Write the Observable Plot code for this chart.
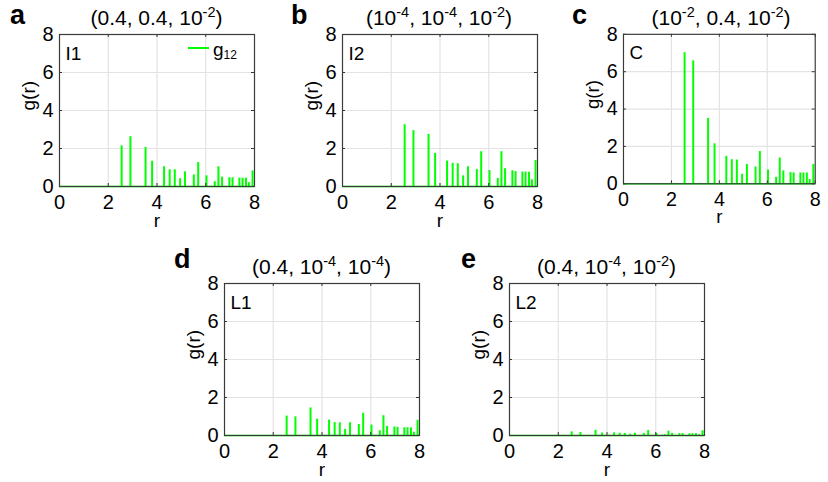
<!DOCTYPE html>
<html>
<head>
<meta charset="utf-8">
<script src="https://cdn.jsdelivr.net/npm/d3@7"></script>
<script src="https://cdn.jsdelivr.net/npm/@observablehq/plot@0.6"></script>
<style>
  body { margin: 0; background: #fff; }
  #root { position: relative; width: 828px; height: 482px; overflow: hidden; font-family: Arial, "Liberation Sans", Helvetica, sans-serif; color: #000; }
  .panel { position: absolute; }
  .title { position: absolute; width: 260px; text-align: center; font-size: 21px; line-height: 21px; white-space: nowrap; }
  .title sup { font-size: 14.5px; vertical-align: 8px; line-height: 0; }
  .letter { position: absolute; font-size: 27px; font-weight: bold; line-height: 30px; }
  .legend { position: absolute; font-size: 19px; line-height: 19px; white-space: nowrap; }
  .legend .sw { display: inline-block; width: 21px; height: 2px; background: #00ff00; vertical-align: middle; margin-right: 4px; position: relative; top: -3px; }
  .legend sub { font-size: 12px; vertical-align: -3px; line-height: 0; }
</style>
</head>
<body>
<div id="root"></div>
<script>
// distances r at which g12(r) is non-zero
const r = [2.55, 2.91, 3.53, 3.80, 4.29, 4.52, 4.73, 4.95, 5.15, 5.51, 5.69, 6.03, 6.37, 6.52, 6.67, 6.97, 7.10, 7.38, 7.51, 7.65, 7.77, 7.92];
const gI1 = [2.14, 2.62, 2.05, 1.33, 1.04, 0.88, 0.88, 0.41, 0.77, 0.61, 1.26, 0.56, 0.25, 1.04, 0.49, 0.46, 0.46, 0.44, 0.44, 0.44, 0.20, 0.82];
const gI2 = [3.25, 2.94, 2.74, 1.74, 1.34, 1.22, 1.20, 0.56, 1.04, 0.89, 1.83, 0.84, 0.42, 1.83, 0.94, 0.83, 0.78, 0.76, 0.76, 0.75, 0.35, 1.37];
const gC  = [7.02, 6.58, 3.50, 2.14, 1.47, 1.29, 1.27, 0.51, 1.03, 0.90, 1.73, 0.74, 0.35, 1.38, 0.69, 0.60, 0.58, 0.58, 0.58, 0.58, 0.23, 1.04];
const gL1 = [1.02, 0.98, 1.45, 0.86, 0.81, 0.68, 0.67, 0.32, 0.67, 0.58, 1.17, 0.55, 0.25, 1.04, 0.48, 0.45, 0.43, 0.41, 0.41, 0.40, 0.17, 0.80];
const gL2 = [0.19, 0.16, 0.27, 0.13, 0.14, 0.12, 0.11, 0.07, 0.12, 0.11, 0.26, 0.11, 0.04, 0.23, 0.11, 0.10, 0.10, 0.09, 0.09, 0.10, 0.04, 0.25];

const letters = ["a", "b", "c", "d", "e"];
const tags = ["I1", "I2", "C", "L1", "L2"];
const titles = [
  "(0.4, 0.4, 10<sup>-2</sup>)",
  "(10<sup>-4</sup>, 10<sup>-4</sup>, 10<sup>-2</sup>)",
  "(10<sup>-2</sup>, 0.4, 10<sup>-2</sup>)",
  "(0.4, 10<sup>-4</sup>, 10<sup>-4</sup>)",
  "(0.4, 10<sup>-4</sup>, 10<sup>-2</sup>)"
];
const series = [gI1, gI2, gC, gL1, gL2];
const xTicks = [0, 2, 4, 6, 8];
const yTicks = [0, 2, 4, 6, 8];
const gridTicks = [2, 4, 6];
const xLabel = "r";
const yLabel = "g(r)";
const legendName = "g";
const legendSub = "12";

// layout (plot-frame top-left corners)
const W = 195, H = 152;
const ML = 60, MR = 14, MT = 10, MB = 50;
const frames = [[59, 34], [341.5, 34], [623.5, 34], [224, 283], [509, 283]];
const letterPos = [[10, 0], [291, 0], [572, 0], [174, 244], [461, 244]];

const root = document.getElementById("root");
const green = "#00ff00";

series.forEach((g, i) => {
  const data = r.map((rv, k) => ({r: rv, g: g[k]}));
  const plot = Plot.plot({
    width: W + ML + MR,
    height: H + MT + MB,
    marginLeft: ML, marginRight: MR, marginTop: MT, marginBottom: MB,
    style: {fontFamily: 'Arial, "Liberation Sans", Helvetica, sans-serif', fontSize: "20px", background: "transparent", overflow: "visible", color: "#000"},
    x: {domain: [0, 8]},
    y: {domain: [0, 8]},
    marks: [
      Plot.gridX(gridTicks, {stroke: "#e3e3e3", strokeOpacity: 1, strokeWidth: 1.2}),
      Plot.gridY(gridTicks, {stroke: "#e3e3e3", strokeOpacity: 1, strokeWidth: 1.2}),
      Plot.ruleY([0], {stroke: green, strokeWidth: 1.5}),
      Plot.ruleX(data, {x: "r", y1: 0, y2: "g", stroke: green, strokeWidth: 2}),
      // inward ticks on all four sides
      Plot.ruleX(xTicks, {insetTop: H - 3, stroke: "#333"}),
      Plot.ruleX(xTicks, {insetBottom: H - 3, stroke: "#333"}),
      Plot.ruleY(yTicks, {insetRight: W - 3, stroke: "#333"}),
      Plot.ruleY(yTicks, {insetLeft: W - 3, stroke: "#333"}),
      Plot.frame({stroke: "#3a3a3a", strokeWidth: 1.2}),
      Plot.axisX(xTicks, {tickSize: 0, tickPadding: 8, label: null, fontSize: 20}),
      Plot.axisY(yTicks, {tickSize: 0, tickPadding: 6, label: null, fontSize: 20}),
      Plot.text([xLabel], {text: d => d, frameAnchor: "bottom", dy: 34, fontSize: 19, lineAnchor: "middle"}),
      Plot.text([yLabel], {text: d => d, frameAnchor: "left", dx: -31, rotate: -90, fontSize: 19, lineAnchor: "middle"}),
      Plot.text([tags[i]], {text: d => d, frameAnchor: "top-left", dx: 6, dy: 12, fontSize: 19, lineAnchor: "top", textAnchor: "start"})
    ]
  });
  const [fx, fy] = frames[i];
  const wrap = document.createElement("div");
  wrap.className = "panel";
  wrap.style.left = (fx - ML) + "px";
  wrap.style.top = (fy - MT) + "px";
  wrap.appendChild(plot);
  root.appendChild(wrap);

  const t = document.createElement("div");
  t.className = "title";
  t.innerHTML = titles[i];
  t.style.left = (fx + W / 2 - 130) + "px";
  t.style.top = (fy - 27) + "px";
  root.appendChild(t);

  const L = document.createElement("div");
  L.className = "letter";
  L.textContent = letters[i];
  L.style.left = letterPos[i][0] + "px";
  L.style.top = letterPos[i][1] + "px";
  root.appendChild(L);
});

// legend in panel a
const lg = document.createElement("div");
lg.className = "legend";
lg.innerHTML = `<span class="sw"></span>${legendName}<sub>${legendSub}</sub>`;
lg.style.left = "188px";
lg.style.top = "40px";
root.appendChild(lg);
</script>
</body>
</html>
